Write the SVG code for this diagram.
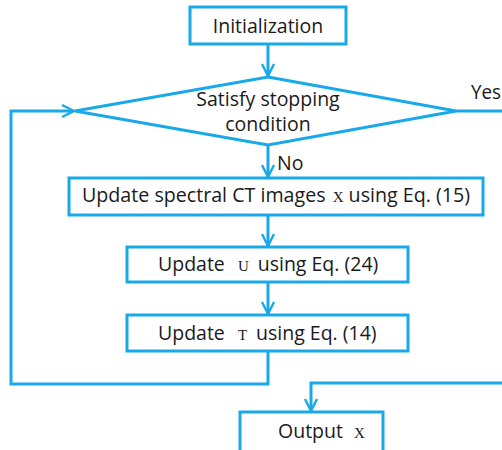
<svg xmlns="http://www.w3.org/2000/svg" width="502" height="450" viewBox="0 0 502 450">
<defs>
<style>
.box{fill:#fff;stroke:#1AA9E8;stroke-width:3}
.ln{fill:none;stroke:#1AA9E8;stroke-width:3}
.t{font-family:"Open Sans","Liberation Sans",sans-serif;font-size:19.5px;fill:#1a1a1a}
.m{font-family:"Liberation Serif",serif;font-size:15px;fill:#1a1a1a}
</style>
<marker id="ah" viewBox="0 0 10 10" refX="9" refY="5" markerWidth="5" markerHeight="5" orient="auto" markerUnits="strokeWidth">
<path d="M1,1 L9,5 L1,9" fill="none" stroke="#1AA9E8" stroke-width="1.6"/>
</marker>
</defs>
<rect width="502" height="450" fill="#fff"/>
<g id="connectors">
<path class="ln" d="M268,44 V76" marker-end="url(#ah)"/>
<path class="ln" d="M268,145 V177" marker-end="url(#ah)"/>
<path class="ln" d="M268,215 V246" marker-end="url(#ah)"/>
<path class="ln" d="M268,282 V314" marker-end="url(#ah)"/>
<path class="ln" d="M268,352 V384 H11 V111 H74" marker-end="url(#ah)"/>
<path class="ln" d="M456,111 H502"/>
<path class="ln" d="M502,383 H311 V411" marker-end="url(#ah)"/>
<text class="t" x="471" y="99" textLength="30" lengthAdjust="spacingAndGlyphs">Yes</text>
<text class="t" x="277" y="170">No</text>
</g>
<g id="init">
<rect class="box" x="190" y="7" width="156" height="37"/>
<text class="t" x="268" y="33" text-anchor="middle">Initialization</text>
</g>
<g id="decision">
<polygon class="box" points="268,77 456,111 268,145 75,111"/>
<text class="t" x="268" y="106" text-anchor="middle">Satisfy stopping</text>
<text class="t" x="268" y="131" text-anchor="middle">condition</text>
</g>
<g id="update-x">
<rect class="box" x="69" y="178" width="414" height="37"/>
<text class="t" x="82" y="202" textLength="388" lengthAdjust="spacingAndGlyphs">Update spectral CT images <tspan class="m" dx="2">X</tspan><tspan dx="5">using Eq. (15)</tspan></text>
</g>
<g id="update-u">
<rect class="box" x="127" y="247" width="281" height="35"/>
<text class="t" x="158" y="271">Update <tspan class="m" dx="8">U</tspan><tspan dx="9">using Eq. (24)</tspan></text>
</g>
<g id="update-t">
<rect class="box" x="127" y="315" width="281" height="36"/>
<text class="t" x="158" y="340">Update <tspan class="m" dx="8">T</tspan><tspan dx="9">using Eq. (14)</tspan></text>
</g>
<g id="output">
<rect class="box" x="240" y="412" width="143" height="40"/>
<text class="t" x="278" y="438">Output <tspan class="m" dx="6">X</tspan></text>
</g>
</svg>
